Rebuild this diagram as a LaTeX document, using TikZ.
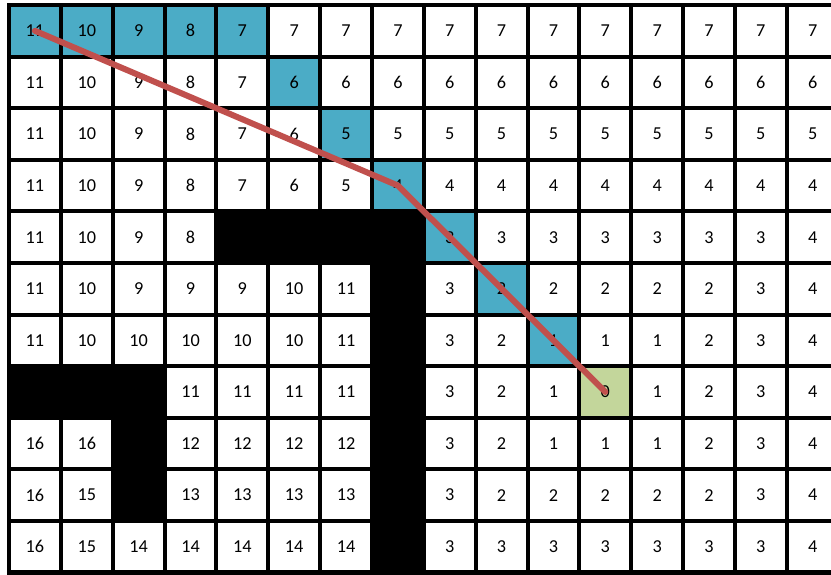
\documentclass[tikz,border=0pt]{standalone}
\usepackage{fontspec}
\setmainfont{Carlito}
\usepackage{xcolor}
\definecolor{pathblue}{HTML}{4BACC6}
\definecolor{goalgreen}{HTML}{C3D69B}
\definecolor{routered}{HTML}{C0504D}
\def\wallmark{x}

\begin{document}
\begin{tikzpicture}[x=1cm,y=-0.995cm,
  num/.style={font=\fontsize{10}{12}\selectfont,inner sep=0pt},
  gridline/.style={line width=2.2pt,line cap=rect},
  route/.style={routered,line width=3.3pt,line cap=round,line join=round}]
\useasboundingbox (-0.174,-0.097) rectangle (15.853,11.047);
\clip (-0.174,-0.097) rectangle (15.853,11.047);
% path cells and goal
\foreach \r/\c in {0/0,0/1,0/2,0/3,0/4,1/5,2/6,3/7,4/8,5/9,6/10}
  \fill[pathblue] (\c,\r) rectangle ++(1,1);
\fill[goalgreen] (11,7) rectangle ++(1,1);
% walls
\fill (4,4) rectangle (8,5);
\fill (7,4) rectangle (8,11);
\fill (0,7) rectangle (3,8);
\fill (2,7) rectangle (3,10);
% grid
\foreach \c in {0,...,16}
  \draw[gridline] (\c,0) -- (\c,11);
\foreach \r in {0,...,11}
  \draw[gridline] (0,\r) -- (16,\r);
% distances, row by row (x = wall)
\foreach \vals [count=\r from 0] in {
  {11,10,9,8,7,7,7,7,7,7,7,7,7,7,7,7},
  {11,10,9,8,7,6,6,6,6,6,6,6,6,6,6,6},
  {11,10,9,8,7,6,5,5,5,5,5,5,5,5,5,5},
  {11,10,9,8,7,6,5,4,4,4,4,4,4,4,4,4},
  {11,10,9,8,x,x,x,x,3,3,3,3,3,3,3,4},
  {11,10,9,9,9,10,11,x,3,2,2,2,2,2,3,4},
  {11,10,10,10,10,10,11,x,3,2,1,1,1,2,3,4},
  {x,x,x,11,11,11,11,x,3,2,1,0,1,2,3,4},
  {16,16,x,12,12,12,12,x,3,2,1,1,1,2,3,4},
  {16,15,x,13,13,13,13,x,3,2,2,2,2,2,3,4},
  {16,15,14,14,14,14,14,x,3,3,3,3,3,3,3,4}}{
  \foreach \v [count=\c from 0] in \vals {
    \ifx\v\wallmark\else
      \node[num] (n-\r-\c) at (\c+0.5,\r+0.5) {\v};
    \fi
  }
}
% route
\draw[route] (n-0-0.center) -- (n-3-7.center) -- (n-7-11.center);
\end{tikzpicture}
\end{document}
